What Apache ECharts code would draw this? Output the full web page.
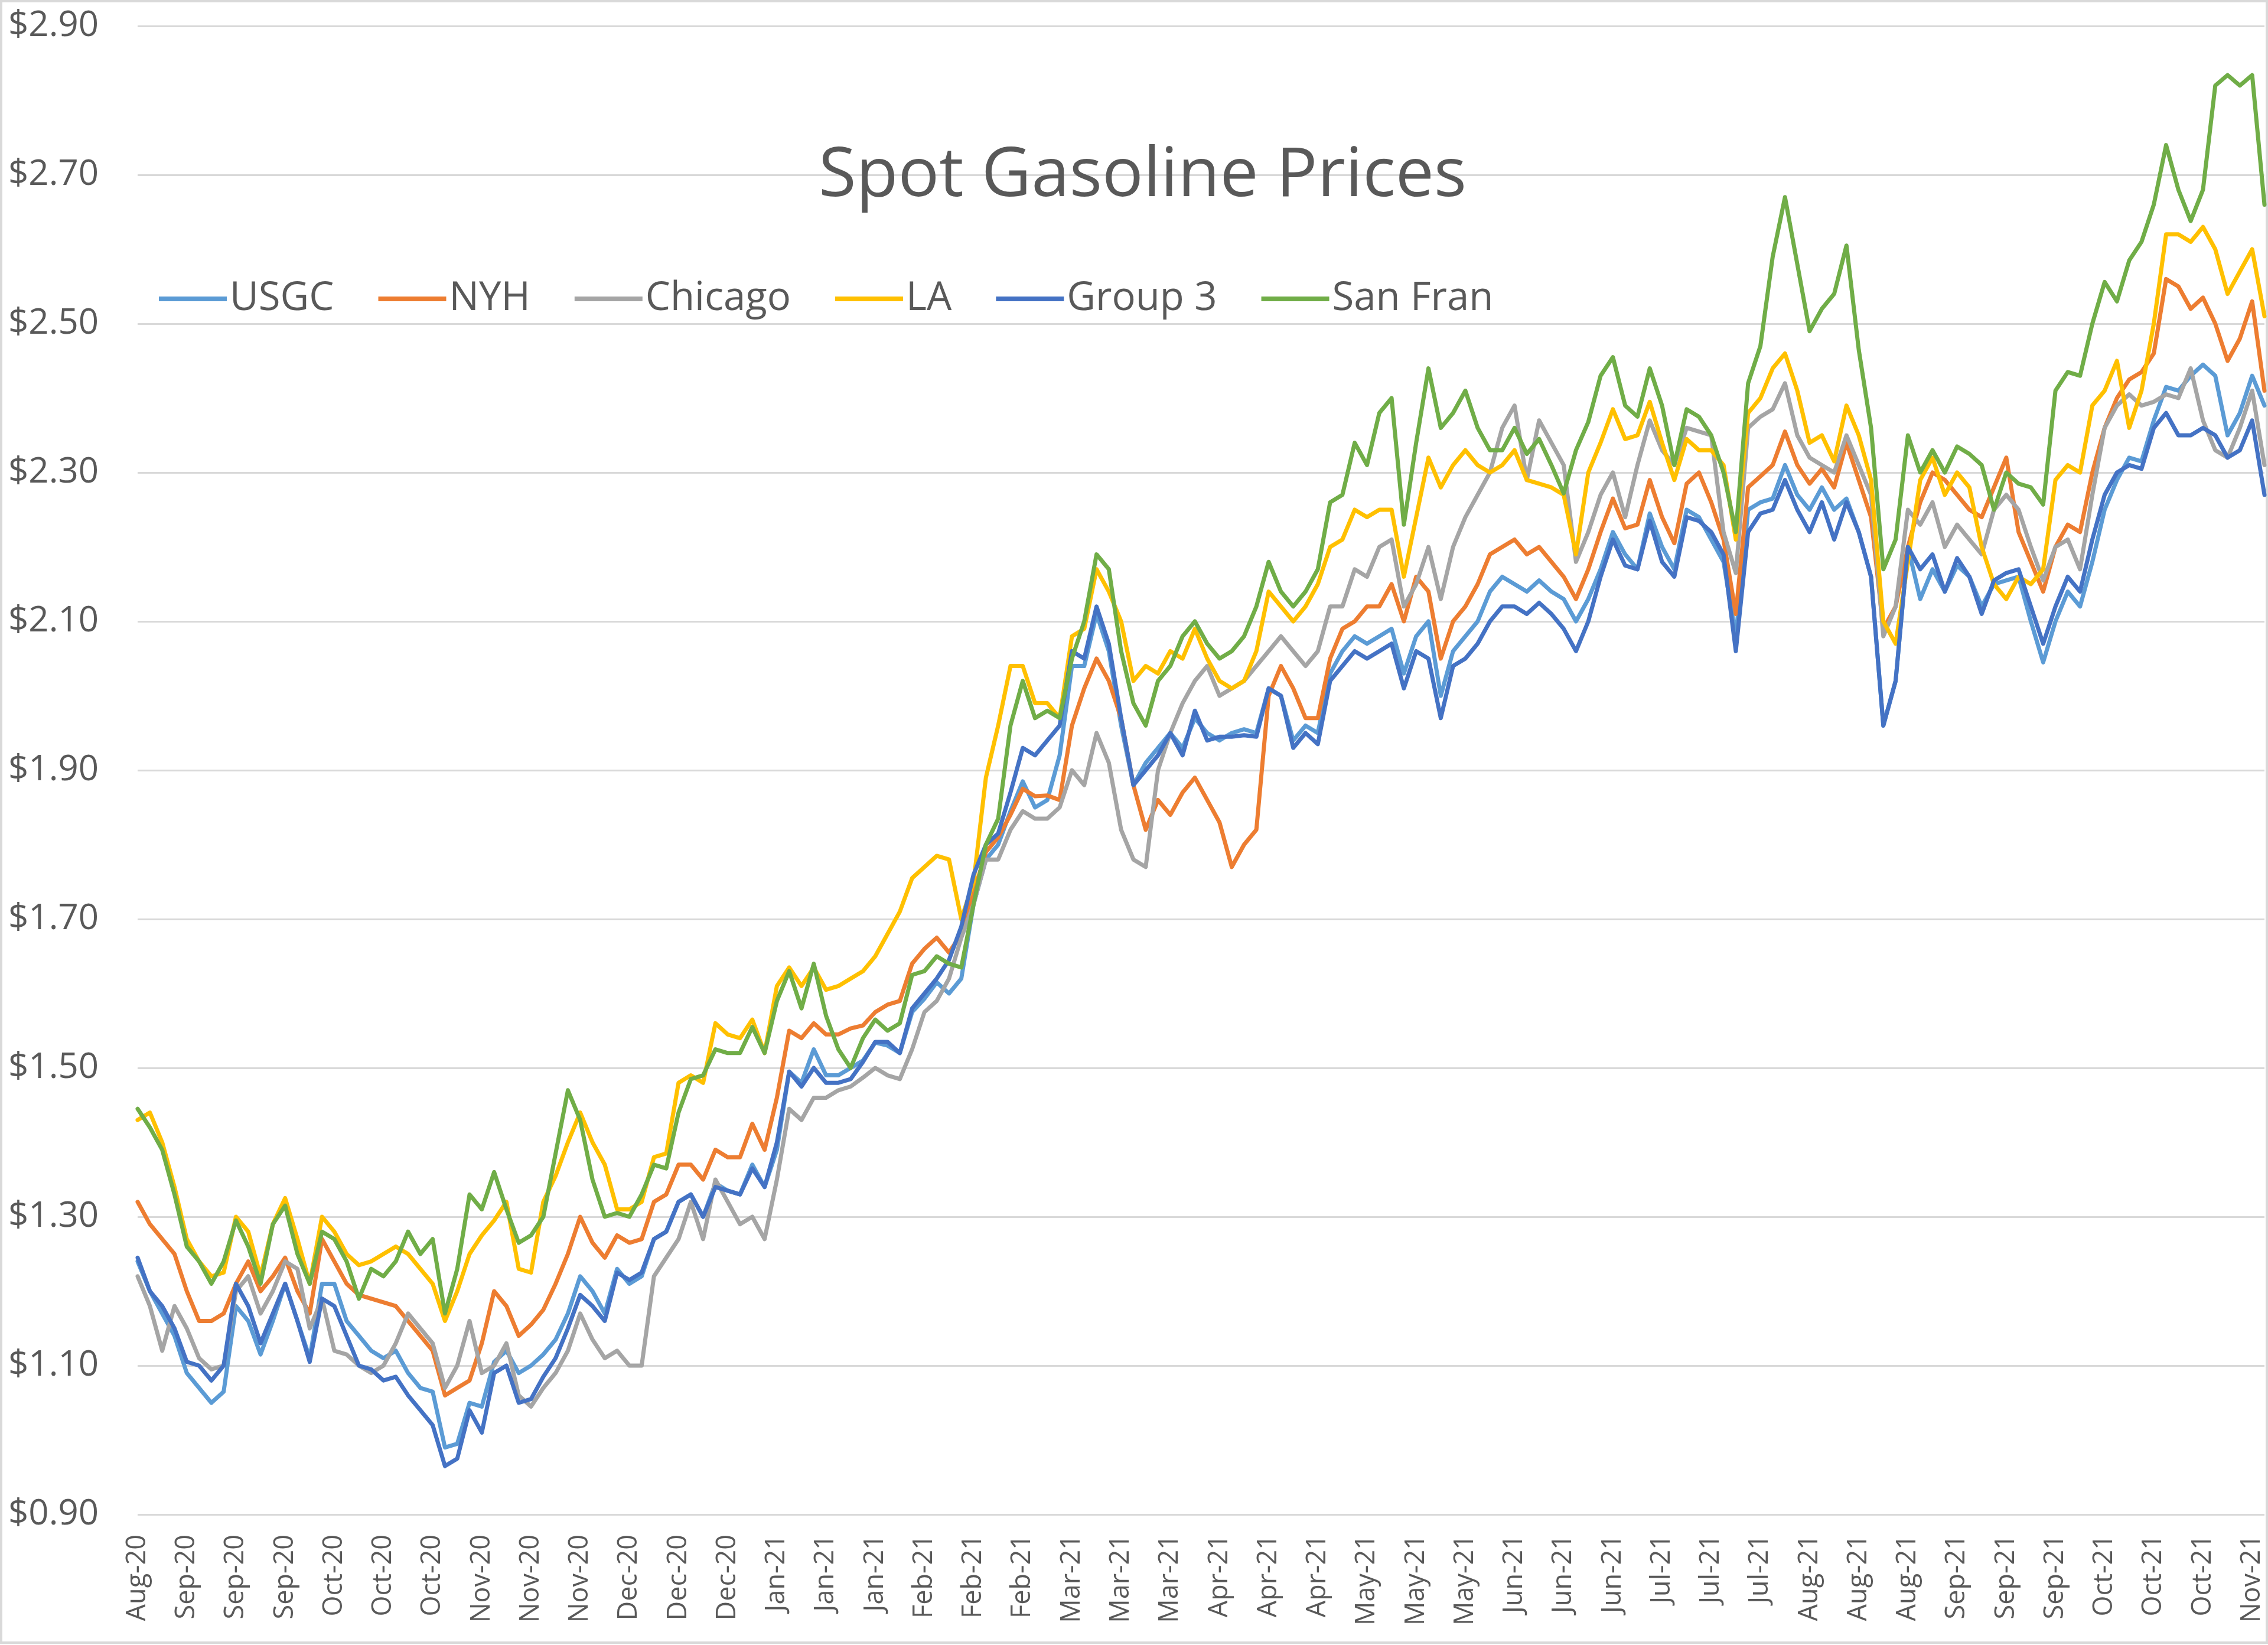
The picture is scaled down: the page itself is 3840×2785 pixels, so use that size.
<!DOCTYPE html>
<html>
<head>
<meta charset="utf-8">
<script src="https://cdn.jsdelivr.net/npm/echarts@6/dist/echarts.min.js"></script>
<style>
html,body{margin:0;padding:0;background:#fff;}
#chart{width:3840px;height:2785px;}
</style>
</head>
<body>
<div id="chart"></div>
<script>
const tickLabels = ['Aug-20','Sep-20','Sep-20','Sep-20','Oct-20','Oct-20','Oct-20','Nov-20','Nov-20','Nov-20','Dec-20','Dec-20','Dec-20','Jan-21','Jan-21','Jan-21','Feb-21','Feb-21','Feb-21','Mar-21','Mar-21','Mar-21','Apr-21','Apr-21','Apr-21','May-21','May-21','May-21','Jun-21','Jun-21','Jun-21','Jul-21','Jul-21','Jul-21','Aug-21','Aug-21','Aug-21','Sep-21','Sep-21','Sep-21','Oct-21','Oct-21','Oct-21','Nov-21'];
const pointsPerTick = 4;
const seriesNames = ['USGC','NYH','Chicago','LA','Group 3','San Fran'];
const seriesColors = ['#5B9BD5','#ED7D31','#A5A5A5','#FFC000','#4472C4','#70AD47'];
const yTicks = { min: 0.9, max: 2.9, step: 0.2 };

const usgc = [1.24,1.20,1.17,1.14,1.09,1.07,1.05,1.065,1.18,1.16,1.115,1.16,1.21,1.16,1.11,1.21,1.21,1.16,1.14,1.12,1.11,1.12,1.09,1.07,1.065,0.99,0.995,1.05,1.045,1.105,
1.12,1.09,1.10,1.115,1.135,1.17,1.22,1.20,1.17,1.23,1.21,1.22,1.27,1.28,1.32,1.33,1.30,1.345,1.335,1.33,1.37,1.34,1.39,1.495,1.48,1.525,1.49,1.49,1.50,
1.51,1.534,1.53,1.52,1.575,1.593,1.615,1.60,1.62,1.72,1.78,1.80,1.845,1.885,1.85,1.86,1.92,
2.04,2.04,2.11,2.06,1.96,1.88,1.91,1.93,1.95,1.93,1.97,1.95,1.94,1.95,1.955,1.95,2.01,2.00,1.94,1.96,1.95,2.03,2.06,2.08,2.07,2.08,2.09,2.03,2.08,2.10,2.00,2.06,2.08,2.10,2.14,2.16,
2.15,2.14,2.155,2.14,2.13,2.10,2.13,2.17,2.22,2.19,2.17,2.245,2.20,2.17,2.25,2.24,2.21,2.18,2.08,2.25,2.26,2.265,2.31,2.27,2.25,2.28,2.25,2.265,2.22,2.16,1.96,2.02,2.20,2.13,
2.17,2.14,2.175,2.16,2.12,2.15,2.155,2.16,2.10,2.045,2.10,2.14,2.12,2.18,2.25,2.29,2.32,2.315,2.37,2.415,2.41,2.43,2.445,2.43,2.35,2.38,2.43,2.39];

const nyh = [1.32,1.29,1.27,1.25,1.20,1.16,1.16,1.17,1.21,1.24,1.20,1.22,1.245,1.20,1.17,1.27,1.24,1.21,1.195,1.19,1.185,1.18,1.16,1.14,1.12,1.06,1.07,1.08,1.13,1.20,
1.18,1.14,1.155,1.175,1.21,1.25,1.30,1.265,1.245,1.275,1.265,1.27,1.32,1.33,1.37,1.37,1.35,1.39,1.38,1.38,1.425,1.39,1.46,1.55,1.54,1.56,1.545,1.545,1.553,
1.557,1.575,1.585,1.59,1.64,1.66,1.675,1.655,1.68,1.735,1.79,1.81,1.84,1.875,1.865,1.866,1.86,
1.96,2.01,2.05,2.02,1.97,1.88,1.82,1.86,1.84,1.87,1.89,1.86,1.83,1.77,1.80,1.82,2.00,2.04,2.01,1.97,1.97,2.05,2.09,2.10,2.12,2.12,2.15,2.10,2.16,2.14,2.05,2.10,2.12,2.15,2.19,2.20,
2.21,2.19,2.20,2.18,2.16,2.13,2.17,2.22,2.265,2.225,2.23,2.29,2.24,2.205,2.285,2.30,2.26,2.21,2.11,2.28,2.295,2.31,2.355,2.31,2.285,2.305,2.28,2.34,2.29,2.24,2.09,2.12,2.20,2.26,
2.30,2.29,2.27,2.25,2.24,2.28,2.32,2.22,2.18,2.14,2.20,2.23,2.22,2.30,2.36,2.40,2.425,2.435,2.46,2.56,2.55,2.52,2.535,2.50,2.45,2.48,2.53,2.41];

const chicago = [1.22,1.18,1.12,1.18,1.15,1.11,1.095,1.10,1.20,1.22,1.17,1.20,1.24,1.23,1.15,1.19,1.12,1.115,1.10,1.09,1.10,1.13,1.17,1.15,1.13,1.07,1.10,1.16,1.09,1.10,
1.13,1.06,1.045,1.07,1.09,1.12,1.17,1.135,1.11,1.12,1.10,1.10,1.22,1.245,1.27,1.32,1.27,1.35,1.32,1.29,1.30,1.27,1.35,1.445,1.43,1.46,1.46,1.47,1.475,
1.487,1.50,1.49,1.485,1.525,1.575,1.59,1.62,1.675,1.72,1.78,1.78,1.82,1.845,1.835,1.835,1.85,
1.90,1.88,1.95,1.91,1.82,1.78,1.77,1.90,1.95,1.99,2.02,2.04,2.00,2.01,2.02,2.04,2.06,2.08,2.06,2.04,2.06,2.12,2.12,2.17,2.16,2.20,2.21,2.12,2.15,2.20,2.13,2.20,2.24,2.27,2.30,2.36,
2.39,2.29,2.37,2.34,2.31,2.18,2.22,2.27,2.30,2.24,2.31,2.37,2.33,2.31,2.36,2.355,2.35,2.22,2.165,2.36,2.375,2.385,2.42,2.35,2.32,2.31,2.30,2.35,2.31,2.27,2.08,2.12,2.25,2.23,
2.26,2.20,2.23,2.21,2.19,2.25,2.27,2.25,2.20,2.155,2.20,2.21,2.17,2.27,2.36,2.39,2.405,2.39,2.395,2.405,2.40,2.44,2.37,2.33,2.32,2.36,2.41,2.31];

const la = [1.43,1.44,1.40,1.34,1.27,1.24,1.22,1.225,1.30,1.28,1.22,1.29,1.325,1.27,1.21,1.30,1.28,1.25,1.235,1.24,1.25,1.26,1.25,1.23,1.21,1.16,1.20,1.25,1.275,1.295,
1.32,1.23,1.225,1.32,1.355,1.40,1.44,1.40,1.37,1.31,1.31,1.32,1.38,1.385,1.48,1.49,1.48,1.56,1.545,1.54,1.565,1.52,1.61,1.635,1.61,1.635,1.605,1.61,1.62,
1.63,1.65,1.68,1.71,1.755,1.77,1.785,1.78,1.70,1.75,1.89,1.96,2.04,2.04,1.99,1.99,1.97,
2.08,2.09,2.17,2.14,2.10,2.02,2.04,2.03,2.06,2.05,2.09,2.05,2.02,2.01,2.02,2.06,2.14,2.12,2.10,2.12,2.15,2.20,2.21,2.25,2.24,2.25,2.25,2.16,2.24,2.32,2.28,2.31,2.33,2.31,2.30,2.31,
2.33,2.29,2.285,2.28,2.27,2.19,2.30,2.34,2.385,2.345,2.35,2.395,2.34,2.29,2.345,2.33,2.33,2.31,2.21,2.38,2.40,2.44,2.46,2.41,2.34,2.35,2.315,2.39,2.35,2.29,2.10,2.07,2.18,2.29,
2.32,2.27,2.30,2.28,2.20,2.15,2.13,2.16,2.15,2.17,2.29,2.31,2.30,2.39,2.41,2.45,2.36,2.41,2.50,2.62,2.62,2.61,2.63,2.60,2.54,2.57,2.60,2.51];

const group3 = [1.245,1.20,1.18,1.15,1.105,1.10,1.08,1.10,1.21,1.18,1.13,1.17,1.21,1.16,1.105,1.19,1.18,1.14,1.10,1.095,1.08,1.085,1.06,1.04,1.02,0.965,0.975,1.04,1.01,1.09,
1.10,1.05,1.055,1.085,1.11,1.15,1.195,1.18,1.16,1.225,1.215,1.225,1.27,1.28,1.32,1.33,1.30,1.34,1.335,1.33,1.365,1.34,1.40,1.495,1.475,1.50,1.48,1.48,1.485,
1.508,1.535,1.535,1.52,1.58,1.60,1.62,1.645,1.69,1.76,1.80,1.815,1.87,1.93,1.92,1.94,1.96,
2.06,2.05,2.12,2.07,1.97,1.88,1.90,1.92,1.95,1.92,1.98,1.94,1.945,1.945,1.947,1.945,2.01,2.00,1.93,1.95,1.935,2.02,2.04,2.06,2.05,2.06,2.07,2.01,2.06,2.05,1.97,2.04,2.05,2.07,2.10,2.12,
2.12,2.11,2.125,2.11,2.09,2.06,2.10,2.16,2.21,2.175,2.17,2.235,2.18,2.16,2.24,2.235,2.22,2.19,2.06,2.22,2.245,2.25,2.29,2.25,2.22,2.26,2.21,2.26,2.22,2.16,1.96,2.02,2.20,2.17,
2.19,2.14,2.185,2.16,2.11,2.155,2.165,2.17,2.12,2.07,2.12,2.16,2.14,2.21,2.27,2.30,2.31,2.305,2.36,2.38,2.35,2.35,2.36,2.35,2.32,2.33,2.37,2.27];

const sanFran = [1.445,1.42,1.39,1.33,1.26,1.24,1.21,1.24,1.295,1.26,1.21,1.29,1.315,1.25,1.21,1.28,1.27,1.24,1.19,1.23,1.22,1.24,1.28,1.25,1.27,1.17,1.23,1.33,1.31,1.36,
1.31,1.265,1.275,1.30,1.385,1.47,1.43,1.35,1.30,1.305,1.30,1.33,1.37,1.365,1.44,1.485,1.49,1.525,1.52,1.52,1.555,1.52,1.59,1.63,1.58,1.64,1.57,1.525,1.50,
1.54,1.565,1.55,1.56,1.625,1.63,1.65,1.64,1.635,1.72,1.80,1.835,1.96,2.02,1.97,1.98,1.97,
2.05,2.10,2.19,2.17,2.06,1.99,1.96,2.02,2.04,2.08,2.10,2.07,2.05,2.06,2.08,2.12,2.18,2.14,2.12,2.14,2.17,2.26,2.27,2.34,2.31,2.38,2.40,2.23,2.34,2.44,2.36,2.38,2.41,2.36,2.33,2.33,
2.36,2.325,2.345,2.31,2.272,2.33,2.368,2.43,2.455,2.39,2.375,2.44,2.39,2.31,2.385,2.375,2.35,2.30,2.22,2.42,2.47,2.59,2.67,2.58,2.49,2.52,2.54,2.605,2.465,2.36,2.17,2.21,2.35,2.30,
2.33,2.30,2.335,2.325,2.31,2.25,2.30,2.285,2.28,2.257,2.41,2.435,2.43,2.50,2.556,2.53,2.585,2.61,2.66,2.74,2.68,2.638,2.68,2.82,2.834,2.82,2.834,2.66];

const seriesValues = [usgc, nyh, chicago, la, group3, sanFran];
const categories = usgc.map((_, j) => String(j));

const FONT = "'Open Sans', 'Noto Sans', sans-serif";
const TEXT = '#595959';

const chart = echarts.init(document.getElementById('chart'), null, { renderer: 'canvas', width: 3840, height: 2785 });
chart.setOption({
  animation: false,
  backgroundColor: '#ffffff',
  title: {
    text: 'Spot Gasoline Prices',
    left: 1381,
    top: 224,
    textStyle: { fontFamily: FONT, fontSize: 116, fontWeight: 'normal', color: TEXT, lineHeight: 140 }
  },
  legend: {
    left: 264,
    top: 461,
    orient: 'horizontal',
    icon: 'rect',
    itemWidth: 115,
    itemHeight: 8,
    itemGap: 75,
    textStyle: { fontFamily: FONT, fontSize: 67, color: TEXT, lineHeight: 80 },
    data: seriesNames
  },
  graphic: [{
    type: 'rect',
    shape: { x: 2, y: 2, width: 3836, height: 2779 },
    style: { fill: 'none', stroke: '#D9D9D9', lineWidth: 4 },
    silent: true,
    z: -1
  }],
  grid: {
    left: 233, right: 6, top: 44, bottom: 221,
    containLabel: false,
    outerBoundsMode: 'none'
  },
  xAxis: {
    type: 'category',
    data: categories,
    boundaryGap: false,
    axisLine: { show: false },
    axisTick: { show: false },
    splitLine: { show: false },
    axisLabel: {
      interval: pointsPerTick - 1,
      rotate: 90,
      margin: 34,
      fontFamily: FONT,
      fontSize: 45,
      color: TEXT,
      hideOverlap: false,
      formatter: (value, index) => (index % pointsPerTick === 0 ? (tickLabels[index / pointsPerTick] || '') : '')
    }
  },
  yAxis: {
    type: 'value',
    min: yTicks.min,
    max: yTicks.max,
    interval: yTicks.step,
    axisLine: { show: false },
    axisTick: { show: false },
    splitLine: { show: true, lineStyle: { color: '#D9D9D9', width: 3 } },
    axisLabel: {
      margin: 66,
      fontFamily: FONT,
      fontSize: 60,
      color: TEXT,
      formatter: v => '$' + v.toFixed(2)
    }
  },
  series: seriesNames.map((name, i) => ({
    name: name,
    type: 'line',
    data: seriesValues[i],
    showSymbol: false,
    symbol: 'none',
    smooth: false,
    color: seriesColors[i],
    lineStyle: { color: seriesColors[i], width: 7, join: 'round', cap: 'round' },
    emphasis: { disabled: true },
    z: 2 + i
  }))
});
</script>
</body>
</html>
